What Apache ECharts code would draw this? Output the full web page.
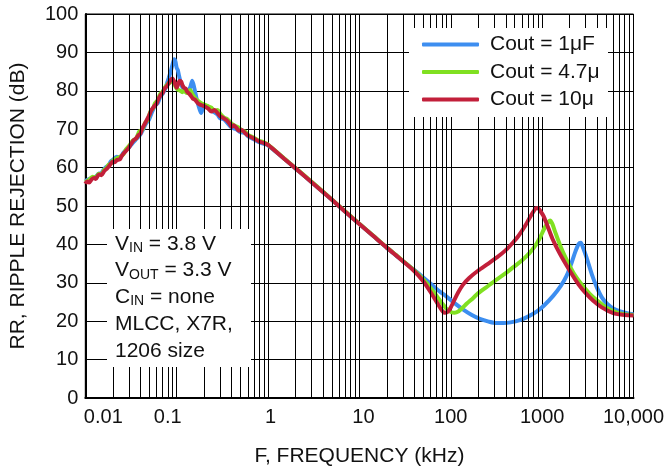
<!DOCTYPE html>
<html><head><meta charset="utf-8">
<script src="https://cdn.jsdelivr.net/npm/echarts@6/dist/echarts.min.js"></script>
<style>html,body{margin:0;padding:0;background:#fff}#c{width:667px;height:468px}</style>
</head><body><div id="c"></div>
<script>
// ---- data ----
const xTickLabels = ['0.01', '0.1', '1', '10', '100', '1000', '10,000'];
const seriesNames = ['Cout = 1\u03bcF', 'Cout = 4.7\u03bc', 'Cout = 10\u03bc'];
const noteLines = [['V', 'IN', ' = 3.8 V'], ['V', 'OUT', ' = 3.3 V'], ['C', 'IN', ' = none'], ['MLCC, X7R,', '', ''], ['1206 size', '', '']];

// Cout = 1 uF (blue)
const freq1 = [0.01,0.011,0.012,0.013,0.014,0.015,0.016,0.017,0.018,0.019,0.02,0.022,0.024,0.026,0.028,0.03,0.033,0.036,0.04,0.043,0.046,0.05,0.054,0.058,0.062,0.066,0.07,0.074,0.078,0.082,0.086,0.09,0.094,0.097,0.1,0.103,0.106,0.11,0.115,0.12,0.13,0.14,0.148,0.155,0.165,0.175,0.185,0.195,0.21,0.23,0.25,0.28,0.3,0.33,0.36,0.4,0.45,0.5,0.56,0.6,0.7,0.8,0.9,1,1.5,2,3,5,7,10,14,20,25,30,40,50,60,75,90,110,137,170,208,260,316,380,450,570,700,870,1050,1320,1600,1850,2100,2300,2500,2650,2800,3060,3500,3940,4500,5200,6000,7000,8500,10000];
const rr1 = [56.5,57.0,57.4,57.6,58.4,58.6,59.6,60.2,60.6,61.6,62.0,62.8,62.6,63.8,64.6,65.2,66.4,67.4,68.6,70.0,71.4,72.6,74.6,76.2,76.8,78.4,79.2,80.2,81.8,83.4,85.0,86.8,88.2,87.6,86.0,85.4,84.0,82.4,81.0,80.6,80.0,80.8,82.6,81.0,78.0,75.8,74.2,75.6,76.0,75.2,74.6,73.8,72.8,72.6,71.6,70.4,70.0,69.2,69.0,68.2,67.4,66.6,66.2,65.8,62.3,59.8,56.2,51.6,48.5,45.3,42.3,39.1,37.2,35.6,33.3,31.4,29.8,27.8,26.4,24.7,23.0,21.6,20.6,19.9,19.5,19.5,19.7,20.3,21.2,22.5,24.1,26.6,29.2,31.8,35.2,38.0,40.0,40.4,39.2,36.6,32.2,29.0,26.2,24.4,23.3,22.6,22.1,21.8];

// Cout = 4.7 uF (green)
const freq2 = [0.01,0.011,0.012,0.013,0.014,0.015,0.016,0.017,0.018,0.019,0.02,0.022,0.024,0.026,0.028,0.03,0.033,0.036,0.039,0.042,0.045,0.048,0.052,0.055,0.058,0.062,0.066,0.07,0.075,0.08,0.085,0.09,0.095,0.1,0.105,0.11,0.115,0.12,0.13,0.14,0.15,0.16,0.18,0.2,0.22,0.24,0.26,0.28,0.3,0.33,0.36,0.4,0.44,0.48,0.52,0.56,0.6,0.7,0.8,0.9,1,1.5,2,3,5,7,10,14,20,25,30,40,50,60,70,80,90,100,110,122,135,150,175,200,260,320,400,480,600,730,850,950,1050,1150,1220,1290,1400,1560,1800,2200,2700,3300,4000,5000,6500,8000,10000];
const rr2 = [56.2,56.8,57.6,57.4,58.4,58.2,59.4,59.8,60.8,61.0,61.8,62.4,62.8,63.4,64.8,65.6,67.0,67.6,69.4,69.8,71.6,72.4,74.8,75.4,76.8,77.6,79.2,79.8,81.0,81.8,82.2,82.8,81.6,80.6,80.2,80.0,79.6,80.0,79.4,80.2,79.0,78.0,77.0,76.4,76.0,75.6,74.8,75.0,74.0,73.0,72.6,71.4,70.8,70.4,69.6,69.4,68.6,67.8,67.0,66.6,66.0,62.4,59.9,56.3,51.7,48.6,45.4,42.4,39.2,37.3,35.7,33.2,30.9,28.7,26.6,24.7,23.2,22.4,22.2,22.6,23.5,24.6,26.0,27.3,29.3,30.9,32.5,34.0,35.8,37.8,39.8,41.8,44.0,45.6,46.2,45.4,43.0,40.0,36.6,32.6,29.6,27.2,25.4,23.6,22.3,21.8,21.6];

// Cout = 10 uF (red)
const freq3 = [0.01,0.0105,0.011,0.0118,0.0125,0.013,0.0138,0.0145,0.015,0.016,0.017,0.018,0.019,0.02,0.021,0.022,0.024,0.025,0.027,0.028,0.03,0.032,0.034,0.036,0.038,0.04,0.042,0.045,0.048,0.05,0.053,0.056,0.06,0.063,0.067,0.07,0.074,0.078,0.082,0.086,0.09,0.094,0.098,0.1,0.104,0.108,0.112,0.116,0.12,0.125,0.13,0.14,0.15,0.16,0.17,0.18,0.2,0.22,0.24,0.26,0.28,0.3,0.32,0.35,0.38,0.4,0.42,0.45,0.48,0.52,0.56,0.6,0.7,0.8,0.9,1,1.5,2,3,5,7,10,14,20,25,30,40,50,60,70,78,85,92,100,110,120,135,160,200,250,320,400,480,550,650,750,850,900,960,1030,1120,1300,1560,2000,2500,3000,3600,4500,6000,8000,10000];
const rr3 = [55.8,56.4,56.1,57.0,57.3,57.0,58.0,58.2,58.0,59.0,59.6,60.2,61.0,61.5,61.4,61.9,62.2,63.0,64.0,64.4,65.2,66.3,67.2,67.6,68.4,68.8,70.2,71.5,72.8,73.6,75.0,75.8,76.6,77.8,79.0,79.4,80.6,81.2,82.0,82.8,83.2,82.4,81.2,80.8,81.8,82.6,82.4,81.4,80.8,80.6,79.8,79.0,78.0,77.6,76.8,76.4,76.0,75.4,74.6,75.0,74.2,73.4,73.0,72.4,71.4,70.6,71.0,70.4,69.6,69.8,69.0,68.4,67.6,66.8,66.4,65.9,62.3,59.8,56.2,51.6,48.5,45.3,42.3,39.1,37.2,35.6,33.0,30.4,27.6,25.0,23.2,22.2,22.4,23.6,25.6,27.4,29.4,31.3,33.2,34.8,36.6,38.5,40.5,42.2,44.8,47.4,49.4,49.5,48.6,47.5,45.4,41.4,37.6,33.2,29.6,27.3,25.4,23.6,22.1,21.6,21.5];

const colors = ['#3d8ef0', '#80e021', '#c21f3a'];

// minor log grid values (2..9 in each decade)
const minorGrid = [];
for (let e = -2; e <= 3; e++) for (let m = 2; m <= 9; m++) minorGrid.push(+(m * Math.pow(10, e)).toPrecision(3));

const FONT = '"Liberation Sans", Arial, Helvetica, sans-serif';
const pairs = (f, v) => f.map((x, i) => [x, v[i]]);

const chart = echarts.init(document.getElementById('c'), null, {renderer: 'canvas'});
const labelRich = {
  a: {fontSize: 20, fontFamily: FONT, color: '#111', padding: [0, 0, 0, 36]},
  b: {fontSize: 20, fontFamily: FONT, color: '#111', padding: [0, 18, 0, 0]},
  c: {fontSize: 20, fontFamily: FONT, color: '#111', padding: [0, 0, 0, 5]},
  d: {fontSize: 20, fontFamily: FONT, color: '#111', padding: [0, 0, 0, 8]},
  n: {fontSize: 20, fontFamily: FONT, color: '#111'}
};
const richKey = ['a', 'b', 'c', 'd', 'n', 'n', 'n'];

const noteRich = {
  n: {fontSize: 21, fontFamily: FONT, fill: '#111', lineHeight: 22},
  s: {fontSize: 14, fontFamily: FONT, fill: '#111', verticalAlign: 'bottom'}
};
const noteGraphics = noteLines.map((ln, i) => ({
  type: 'text', x: 115, y: 244 + i * 26.7, z: 10, zlevel: 1,
  style: {
    text: '{n|' + ln[0] + '}' + (ln[1] ? '{s|' + ln[1] + '}' : '') + (ln[2] ? '{n|' + ln[2] + '}' : ''),
    rich: noteRich, verticalAlign: 'middle', fill: '#111'
  }
}));

const option = {
  animation: false,
  backgroundColor: '#fff',
  grid: {left: 85.3, right: 33.5, top: 14, bottom: 70, show: true, borderColor: '#000', borderWidth: 1,
         backgroundColor: 'transparent', containLabel: false, outerBoundsMode: 'none'},
  xAxis: {
    type: 'log', logBase: 10, min: 0.01, max: 10000,
    name: 'F, FREQUENCY (kHz)', nameLocation: 'middle', nameGap: 48,
    nameTextStyle: {fontSize: 21, fontFamily: FONT, color: '#111'},
    axisLine: {show: true, lineStyle: {color: '#000', width: 2}},
    axisTick: {show: false},
    splitLine: {show: true, lineStyle: {color: '#000', width: 1}},
    minorTick: {show: false}, minorSplitLine: {show: false},
    axisLabel: {
      show: true, margin: 9, showMinLabel: true, showMaxLabel: true,
      fontSize: 20, fontFamily: FONT, color: '#111',
      formatter: v => {
        const k = Math.round(Math.log10(v)) + 2;
        return '{' + richKey[k] + '|' + xTickLabels[k] + '}';
      },
      rich: labelRich
    }
  },
  yAxis: {
    type: 'value', min: 0, max: 100, interval: 10,
    name: 'RR, RIPPLE REJECTION (dB)', nameLocation: 'middle', nameGap: 57,
    nameTextStyle: {fontSize: 21, fontFamily: FONT, color: '#111'},
    axisLine: {show: true, lineStyle: {color: '#000', width: 2}},
    axisTick: {show: false},
    splitLine: {show: true, lineStyle: {color: '#000', width: 1}},
    axisLabel: {margin: 7, fontSize: 20, fontFamily: FONT, color: '#111'}
  },
  legend: {
    show: true, orient: 'vertical', left: 422, top: 33.5, z: 60, zlevel: 1,
    data: seriesNames, icon: 'roundRect', itemWidth: 57, itemHeight: 4, itemGap: 5.5,
    selectedMode: false, padding: 0,
    textStyle: {fontSize: 21, fontFamily: FONT, color: '#111', lineHeight: 22, padding: [0, 0, 0, 6]}
  },
  graphic: [
    {type: 'rect', shape: {x: 409, y: 28, width: 199, height: 89}, style: {fill: '#fff'}, z: 0, zlevel: 1},
    {type: 'rect', shape: {x: 107, y: 229, width: 144, height: 138}, style: {fill: '#fff'}, z: 0, zlevel: 1}
  ].concat(noteGraphics),
  series: [
    {
      name: 'grid', type: 'line', data: [], z: 1, silent: true, symbol: 'none',
      markLine: {
        silent: true, symbol: ['none', 'none'], label: {show: false}, animation: false,
        lineStyle: {color: '#000', width: 1, type: 'solid'},
        emphasis: {disabled: true},
        data: minorGrid.map(v => ({xAxis: v}))
      }
    },
    {name: seriesNames[0], type: 'line', data: pairs(freq1, rr1), symbol: 'none', smooth: 0.25, z: 2,
     color: colors[0], lineStyle: {width: 4, color: colors[0]}},
    {name: seriesNames[1], type: 'line', data: pairs(freq2, rr2), symbol: 'none', smooth: 0.25, z: 2,
     color: colors[1], lineStyle: {width: 4, color: colors[1]}},
    {name: seriesNames[2], type: 'line', data: pairs(freq3, rr3), symbol: 'none', smooth: 0.25, z: 2,
     color: colors[2], lineStyle: {width: 4, color: colors[2]}}
  ]
};
chart.setOption(option);
</script></body></html>
